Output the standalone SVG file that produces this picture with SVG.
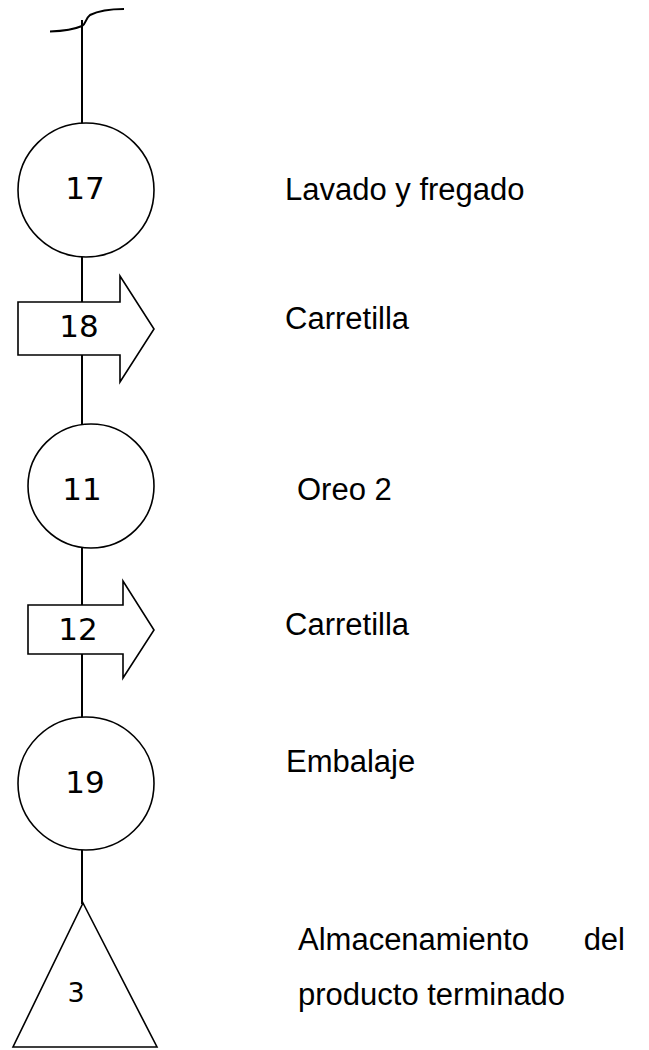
<svg xmlns="http://www.w3.org/2000/svg" width="649" height="1050" viewBox="0 0 649 1050">
<style>
.shape{fill:#fff;stroke:#000;stroke-width:1.6}
.conn{fill:none;stroke:#000;stroke-width:2}
.num{font-family:"DejaVu Sans",Verdana,sans-serif;font-size:31px;fill:#000;text-anchor:middle}
.lbl{font-family:"Liberation Sans",Arial,sans-serif;font-size:31px;fill:#000}
</style>
<rect width="649" height="1050" fill="#fff"/>
<g id="connectors">
<path class="conn" d="M50,31.5 C62,31 75,29 82,26 C86,24 85,19 90,15 C100,10 112,9 124,9"/>
<line class="conn" x1="82" y1="20" x2="82" y2="124"/>
<line class="conn" x1="82" y1="256" x2="82" y2="302"/>
<line class="conn" x1="82" y1="355" x2="82" y2="425"/>
<line class="conn" x1="82" y1="548" x2="82" y2="605"/>
<line class="conn" x1="82" y1="654" x2="82" y2="718"/>
<line class="conn" x1="82" y1="850" x2="82" y2="904"/>
</g>
<g id="op17">
<ellipse class="shape" cx="86" cy="190" rx="68" ry="67"/>
<text class="num" x="85" y="199">17</text>
<text class="lbl" x="285" y="200">Lavado y fregado</text>
</g>
<g id="tr18">
<path class="shape" d="M18,302 H120 V276 L154,329 L120,382 V355 H18 Z"/>
<text class="num" x="79" y="337">18</text>
<text class="lbl" x="285" y="329">Carretilla</text>
</g>
<g id="op11">
<ellipse class="shape" cx="91" cy="486" rx="63" ry="62"/>
<text class="num" x="82" y="500">11</text>
<text class="lbl" x="297" y="500">Oreo 2</text>
</g>
<g id="tr12">
<path class="shape" d="M28,605 H123 V581 L154,630 L123,678 V654 H28 Z"/>
<text class="num" x="78" y="640">12</text>
<text class="lbl" x="285" y="635">Carretilla</text>
</g>
<g id="op19">
<ellipse class="shape" cx="86" cy="783.5" rx="68" ry="66.5"/>
<text class="num" x="85" y="793">19</text>
<text class="lbl" x="286" y="772">Embalaje</text>
</g>
<g id="st3">
<path class="shape" d="M83,903 L157,1047 L13,1047 Z"/>
<text class="num" x="76" y="1002" style="font-size:27px">3</text>
<text class="lbl" x="298" y="950">Almacenamiento</text>
<text class="lbl" x="625" y="950" text-anchor="end">del</text>
<text class="lbl" x="298" y="1005">producto terminado</text>
</g>
</svg>
